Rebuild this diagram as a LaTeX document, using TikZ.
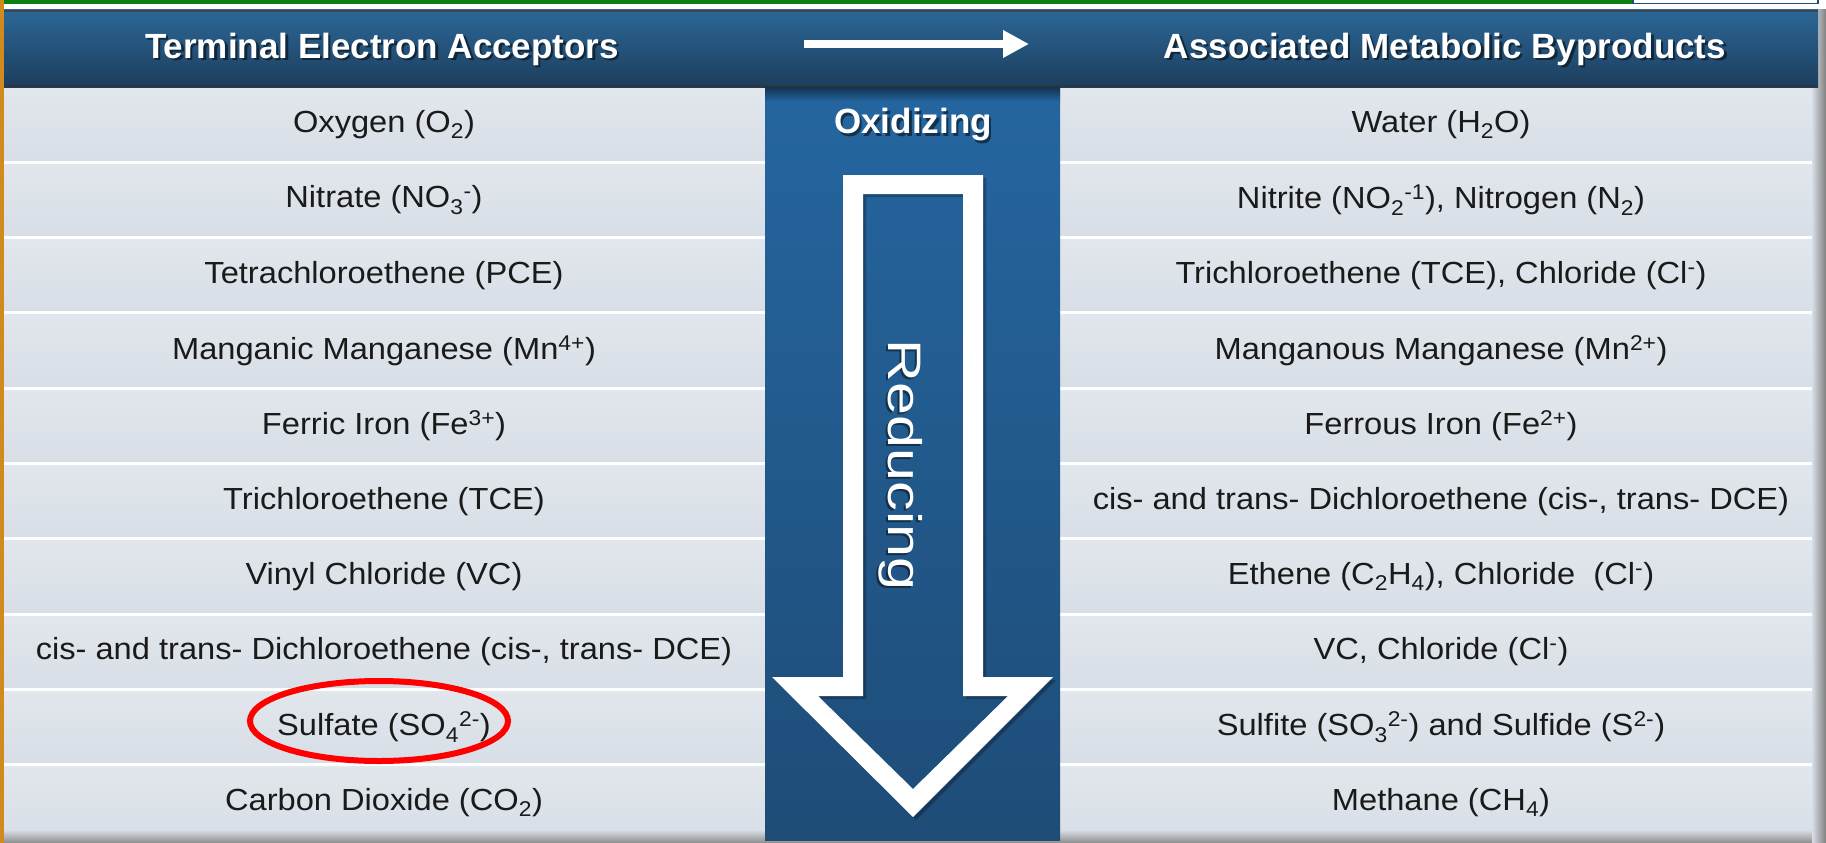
\documentclass[tikz,border=0pt]{standalone}
\usepackage{fontspec}
\setmainfont{Liberation Sans}
\newfontfamily\rowf[FakeStretch=1.07]{Liberation Sans}
\usetikzlibrary{arrows.meta}
\definecolor{rowtop}{HTML}{E2E7ED}
\definecolor{rowbot}{HTML}{D8DEE6}
\definecolor{hdrtop}{HTML}{2B6797}
\definecolor{hdrbot}{HTML}{1D3D5C}
\definecolor{colmid}{HTML}{2566A0}
\definecolor{colbot}{HTML}{1E4C77}
\definecolor{topgreen}{HTML}{0A8012}
\definecolor{edgeorange}{HTML}{D08A1E}
\definecolor{boxblue}{HTML}{1F4E79}
\definecolor{txtdark}{HTML}{1A1A1A}
\begin{document}
\begin{tikzpicture}[x=1pt,y=-1pt,
  rowtxt/.style={font=\rowf\fontsize{30.5}{36}\selectfont, text=txtdark, inner sep=0pt},
  hdrtxt/.style={font=\bfseries\fontsize{35}{40}\selectfont, text=white, inner sep=0pt},
  hdrshadow/.style={font=\bfseries\fontsize{35}{40}\selectfont, text=black, opacity=0.5, inner sep=0pt},
  sepline/.style={white, line width=3pt},
  hilite/.style={draw=red, line width=6pt}]
\useasboundingbox (0,0) rectangle (1826,843);
% page background
\fill[white] (0,0) rectangle (1826,843);
% top green rule and box
\fill[topgreen] (3,0) rectangle (1632,4.5);
\draw[boxblue, line width=1.5pt] (1633,-2) rectangle (1818,3.5);
% rows background
\foreach \k in {0,...,9}{
  \shade[top color=rowtop, bottom color=rowbot]
    (3.5,{87+75.3*\k}) rectangle (1818,{87+75.3*(\k+1)});
}
% separators
\foreach \k in {1,...,9}{
  \draw[sepline] (3.5,{87+75.3*\k}) -- (1818,{87+75.3*\k});
}
% bottom and right shadows
\shade[top color=rowbot, bottom color=black!45] (3.5,830) rectangle (1818,843);
\shade[left color=rowbot, right color=black!50] (1812,10) rectangle (1826,843);
% header band
\shade[top color=hdrtop, bottom color=hdrbot] (3.5,10) rectangle (1818,87);
\fill[black!75, opacity=0.8] (3.5,10) rectangle (1818,12.5);
\fill[black!80, opacity=0.7] (3.5,84.5) rectangle (1818,87);
% middle column
\shade[top color=colmid, bottom color=colbot] (765,87) rectangle (1060,840);
\shade[top color=black!60!colbot, bottom color=colmid, opacity=0.7] (765,87) rectangle (1060,102);
% left orange edge
\fill[edgeorange] (0,0) rectangle (3.5,843);
% header texts
\node[hdrshadow] at (384.5,51.5) {Terminal Electron Acceptors};
\node[hdrtxt] (hl) at (382,49) {Terminal Electron Acceptors};
\node[hdrshadow] at (1447.5,51.5) {Associated Metabolic Byproducts};
\node[hdrtxt] (hr) at (1445,49) {Associated Metabolic Byproducts};
% header arrow
\coordinate (ha1) at (804,44);
\coordinate (ha2) at (1029,44);
\draw[white, line width=8pt, -{Triangle[length=26pt,width=26pt]}] (ha1) -- (ha2);
% Oxidizing
\node[hdrshadow] at (915.5,127.5) {Oxidizing};
\node[hdrtxt] (ox) at (913,125) {Oxidizing};
% big arrow shadow
\fill[black, opacity=0.25, even odd rule]
  (846,178) -- (986,178) -- (986,680) -- (1056,680) -- (916,820) -- (775,680) -- (846,680) -- cycle
  (866,197) -- (866,699) -- (821,699) -- (916,792) -- (1011,699) -- (966,699) -- (966,197) -- cycle;
% big arrow outline
\fill[white, even odd rule]
  (843,175) -- (983,175) -- (983,677) -- (1053,677) -- (913,817) -- (772,677) -- (843,677) -- cycle
  (863,194) -- (863,696) -- (818,696) -- (913,789) -- (1008,696) -- (963,696) -- (963,194) -- cycle;
% Reducing
\node[rotate=-90, anchor=base, inner sep=0pt, text=black, opacity=0.45,
      font=\fontsize{47}{50}\selectfont] at (886,467) {\scalebox{1.26}[1]{Reducing}};
\node[rotate=-90, anchor=base, inner sep=0pt, text=white,
      font=\fontsize{47}{50}\selectfont] (red) at (888,465) {\scalebox{1.26}[1]{Reducing}};
% left column
\node[rowtxt] (L0) at (384,124.7) {Oxygen (O\textsubscript{2})};
\node[rowtxt] (L1) at (384,200.0) {Nitrate (NO\textsubscript{3}\textsuperscript{-})};
\node[rowtxt] (L2) at (384,275.3) {Tetrachloroethene (PCE)};
\node[rowtxt] (L3) at (384,350.6) {Manganic Manganese (Mn\textsuperscript{4+})};
\node[rowtxt] (L4) at (384,425.9) {Ferric Iron (Fe\textsuperscript{3+})};
\node[rowtxt] (L5) at (384,501.2) {Trichloroethene (TCE)};
\node[rowtxt] (L6) at (384,576.5) {Vinyl Chloride (VC)};
\node[rowtxt] (L7) at (384,651.8) {cis- and trans- Dichloroethene (cis-, trans- DCE)};
\node[rowtxt] (L8) at (384,727.1) {Sulfate (SO\textsubscript{4}\textsuperscript{2-})};
\node[rowtxt] (L9) at (384,802.4) {Carbon Dioxide (CO\textsubscript{2})};
% right column
\node[rowtxt] (R0) at (1441,124.7) {Water (H\textsubscript{2}O)};
\node[rowtxt] (R1) at (1441,200.0) {Nitrite (NO\textsubscript{2}\textsuperscript{-1}), Nitrogen (N\textsubscript{2})};
\node[rowtxt] (R2) at (1441,275.3) {Trichloroethene (TCE), Chloride (Cl\textsuperscript{-})};
\node[rowtxt] (R3) at (1441,350.6) {Manganous Manganese (Mn\textsuperscript{2+})};
\node[rowtxt] (R4) at (1441,425.9) {Ferrous Iron (Fe\textsuperscript{2+})};
\node[rowtxt] (R5) at (1441,501.2) {cis- and trans- Dichloroethene (cis-, trans- DCE)};
\node[rowtxt] (R6) at (1441,576.5) {Ethene (C\textsubscript{2}H\textsubscript{4}), Chloride\ \ (Cl\textsuperscript{-})};
\node[rowtxt] (R7) at (1441,651.8) {VC, Chloride (Cl\textsuperscript{-})};
\node[rowtxt] (R8) at (1441,727.1) {Sulfite (SO\textsubscript{3}\textsuperscript{2-}) and Sulfide (S\textsuperscript{2-})};
\node[rowtxt] (R9) at (1441,802.4) {Methane (CH\textsubscript{4})};
% highlight ellipse
\draw[hilite] (379,721) ellipse [x radius=129, y radius=40];
\end{tikzpicture}
\end{document}
